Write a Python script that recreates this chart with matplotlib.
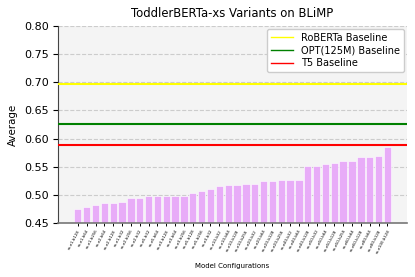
import matplotlib
matplotlib.use("Agg")
import matplotlib.pyplot as plt
import numpy as np

# model variants, sorted by BLiMP average
configs = [
    "xs-e1-b128", "xs-e1-b64", "xs-e1-b256", "xs-e2-b64", "xs-e2-b128", "xs-e1-b32",
    "xs-e2-b256", "xs-e2-b32", "xs-e5-b32", "xs-e5-b64", "xs-e3-b128", "xs-e3-b64",
    "xs-e3-b256", "xs-e5-b128", "xs-e5-b256", "xs-e3-b32", "xs-e10-b32", "xs-e10-b64",
    "xs-e10-b128", "xs-e10-b256", "xs-e20-b32", "xs-e20-b64", "xs-e20-b128", "xs-e20-b256",
    "xs-e40-b32", "xs-e40-b64", "xs-e40-b128", "xs-e50-b32", "xs-e50-b64", "xs-e50-b128",
    "xs-e50-b256", "xs-e60-b64", "xs-e60-b128", "xs-e80-b64", "xs-e80-b128", "xs-e100-b128",
]
averages = [
    0.475, 0.478, 0.482, 0.486, 0.486, 0.488, 0.494, 0.494, 0.498, 0.498, 0.499, 0.499,
    0.499, 0.504, 0.508, 0.510, 0.516, 0.518, 0.518, 0.519, 0.520, 0.525, 0.525, 0.527,
    0.527, 0.527, 0.552, 0.552, 0.555, 0.557, 0.560, 0.561, 0.567, 0.567, 0.570, 0.586,
]

baseline_names = ["RoBERTa Baseline", "OPT(125M) Baseline", "T5 Baseline"]
baseline_values = [0.6965, 0.626, 0.588]
baseline_colors = ["yellow", "green", "red"]

fig = plt.figure(figsize=(4.15, 2.77), dpi=100)
ax = fig.add_axes([0.1405, 0.194, 0.84, 0.713])
ax.set_facecolor("#f4f4f4")

x = np.arange(len(configs))
ax.bar(x, averages, width=0.83, color="#e8acf8", edgecolor="white", linewidth=0.4, zorder=2)

for name, val, col in zip(baseline_names, baseline_values, baseline_colors):
    ax.axhline(val, color=col, linewidth=1.5, label=name, zorder=3)

ax.set_ylim(0.45, 0.80)
ax.set_yticks(np.arange(0.45, 0.801, 0.05))
ax.yaxis.grid(True, linestyle="--", color="#cccccc", linewidth=0.8, zorder=0)
ax.set_axisbelow(True)

ax.set_xticks(x)
ax.set_xticklabels(configs, rotation=62, fontsize=2.8, ha="right", rotation_mode="anchor")
ax.tick_params(axis="x", length=2.5, width=0.7, pad=1.5)
ax.tick_params(axis="y", labelsize=8, length=3.5, width=0.8)

for s in ["top", "right"]:
    ax.spines[s].set_visible(False)
ax.spines["left"].set_color("#444444")
ax.spines["bottom"].set_color("#777777")
ax.spines["bottom"].set_linewidth(1.2)

ax.set_title("ToddlerBERTa-xs Variants on BLiMP", fontsize=8.4)
ax.set_ylabel("Average", fontsize=7.4)
ax.set_xlabel("Model Configurations", fontsize=5, labelpad=6)

leg = ax.legend(loc="upper right", fontsize=7, framealpha=1, borderpad=0.4,
                labelspacing=0.3, handlelength=2.3, borderaxespad=0.3,
                edgecolor="#cccccc")
for line in leg.get_lines():
    line.set_linewidth(1.0)

fig.savefig("out.png", dpi=100)
